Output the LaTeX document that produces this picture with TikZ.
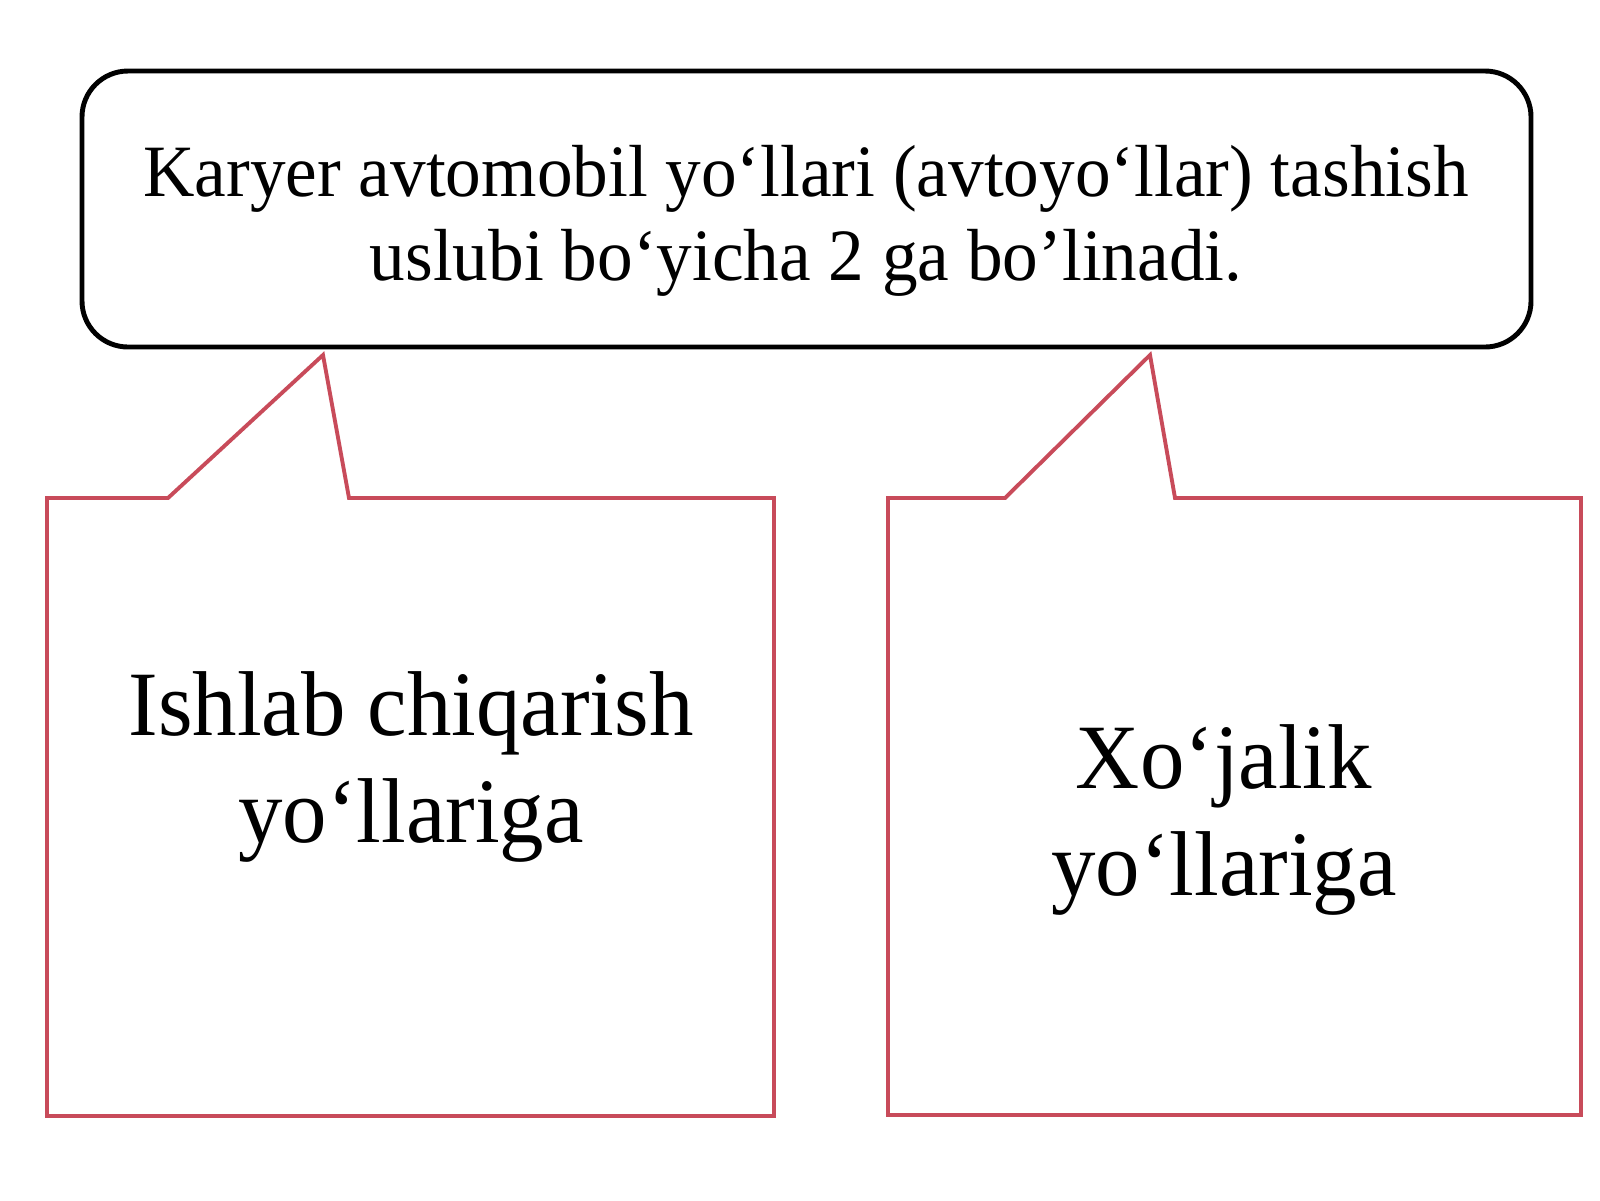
\documentclass[tikz,border=0pt]{standalone}
\usepackage{fontspec}
\setmainfont[FakeStretch=0.965]{Liberation Serif}
\definecolor{bubblered}{RGB}{200,75,90}
\tikzset{
	headbox/.style={draw=black, line width=1.4pt, rounded corners=0.46cm, minimum width=14.49cm, minimum height=2.76cm},
	headtext/.style={align=center, font=\fontsize{21}{24}\selectfont},
	bubble/.style={draw=bubblered, line width=1.1pt, line join=miter},
	bubbletext/.style={align=center, font=\fontsize{26.2}{30.4}\selectfont}
}
\begin{document}
\begin{tikzpicture}
	\useasboundingbox (0,0) rectangle (16,-12);
		% heading
			\node[headbox] (head) at (8.065,-2.09) {};
			\node[headtext] (headlbl) at (8.06,-2.21) {Karyer avtomobil yo‘llari (avtoyo‘llar) tashish\\uslubi bo‘yicha 2 ga bo’linadi.};
		% callouts
			\foreach \l/\r/\a/\t/\b/\d in {0.47/7.74/1.68/3.23/3.49/11.16, 8.88/15.81/10.05/11.50/11.75/11.15}{
				\draw[bubble] (\l,-4.98) -- (\a,-4.98) -- (\t,-3.55) -- (\b,-4.98) -- (\r,-4.98) -- (\r,-\d) -- (\l,-\d) -- cycle;
				}
		% callout texts
			\node[bubbletext] (prod) at (4.11,-7.67) {Ishlab chiqarish\\yo‘llariga};
			\node[bubbletext] (farm) at (12.24,-8.20) {Xo‘jalik\\yo‘llariga};
	\end{tikzpicture}
\end{document}
